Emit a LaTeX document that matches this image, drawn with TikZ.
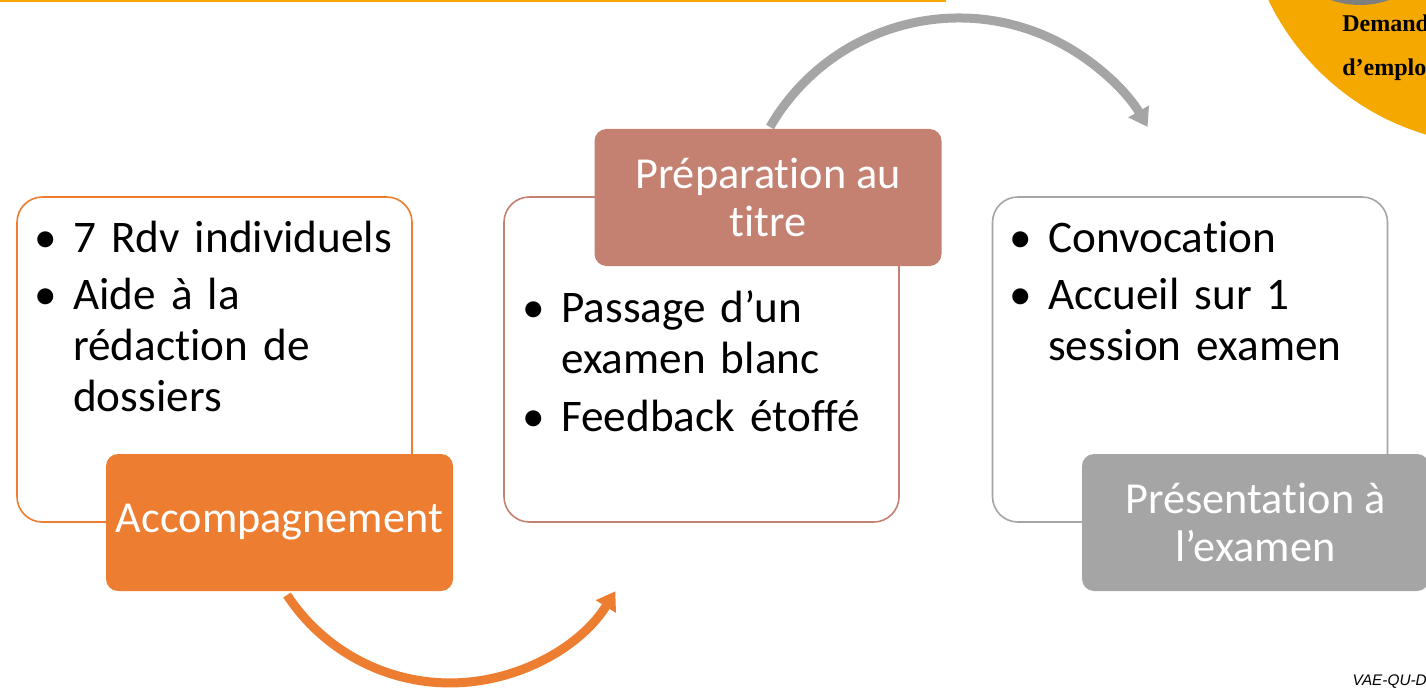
\documentclass[tikz,border=0pt]{standalone}
\usepackage{fontspec}
\setmainfont{Carlito}[Ligatures=NoCommon]
\newfontfamily\cornerfont{Liberation Serif}
\newfontfamily\refsans{Liberation Sans}
\usetikzlibrary{arrows.meta}

\definecolor{accorange}{HTML}{ED7D31}
\definecolor{prepbrown}{HTML}{C48070}
\definecolor{presgray}{HTML}{A5A5A5}
\definecolor{cornergold}{HTML}{F5A800}
\definecolor{cornergray}{HTML}{7F7F7F}

\newcommand{\puce}[1]{\par\noindent\makebox[29.25pt][l]{\textbullet}%
  \parbox[t]{245pt}{\raggedright\strut#1\strut}}
\newcommand{\pucegap}{\par\vspace{4.25pt}}

\tikzset{
  stagebox/.style={draw, line width=1.2pt, fill=white, rounded corners=19pt,
    minimum width=296.25pt, minimum height=243.75pt, inner sep=0pt},
  stagelabel/.style={rounded corners=9pt, minimum width=260.25pt,
    minimum height=102.75pt, inner sep=0pt, text=white, align=center,
    font=\fontsize{33.2}{36}\selectfont},
  stagetext/.style={anchor=north west, inner sep=0pt, text width=280pt,
    font=\fontsize{33.9}{38.25}\selectfont},
  looparrow/.style={line width=6.75pt, -{Triangle[length=13.5pt,width=17pt]}}
}

\begin{document}
\begin{tikzpicture}[x=0.75pt,y=0.75pt]
  \useasboundingbox (0,0) rectangle (1426,687);

  \draw[cornergold, line width=1.5pt] (0,686) -- (946,686);
  \fill[cornergold] (1498.5,797) circle[radius=255];
  \fill[cornergray] (1360,769) circle[radius=87];
  \node[anchor=base west, inner sep=0pt, font=\cornerfont\bfseries\fontsize{18}{20}\selectfont]
    (demande) at (1342,655) {Demande};
  \node[anchor=base west, inner sep=0pt, font=\cornerfont\bfseries\fontsize{18}{20}\selectfont]
    (emploi) at (1342,611) {d’emploi};

  \coordinate (accout) at (287,92);
  \coordinate (prepout) at (770,560);
  \draw[looparrow, accorange] (accout) arc[start angle=213.3, end angle=328, radius=195];
  \draw[looparrow, presgray] (prepout) arc[start angle=150, end angle=30, radius=218];

  \begin{scope}[every node/.style={stagebox}]
    \node[draw=accorange] (box1) at (214.5,327.5) {};
    \node[draw=prepbrown] (box2) at (701.5,327.5) {};
    \node[draw=presgray]  (box3) at (1190,327.5)  {};
  \end{scope}

  \begin{scope}[every node/.style={stagetext}]
    \node (txt1) at (34,485.5)  {\puce{7 Rdv individuels}\pucegap\puce{Aide à la\\rédaction de\\dossiers}};
    \node (txt2) at (522,415.5) {\puce{Passage d’un\\examen blanc}\pucegap\puce{Feedback étoffé}};
    \node (txt3) at (1009,485.5) {\puce{Convocation}\pucegap\puce{Accueil sur 1\\session examen}};
  \end{scope}

  \begin{scope}[every node/.style={stagelabel}]
    \node[fill=accorange] (acc)  at (279.5,164.5)  {Accompagnement};
    \node[fill=prepbrown] (prep) at (768,489.5)    {Préparation au\\titre};
    \node[fill=presgray]  (pres) at (1255.5,164.5) {Présentation à\\l’examen};
  \end{scope}

  \node[anchor=base east, inner sep=0pt, font=\refsans\itshape\fontsize{11.5}{13}\selectfont]
    (docref) at (1427,2) {VAE-QU-D};
\end{tikzpicture}
\end{document}
